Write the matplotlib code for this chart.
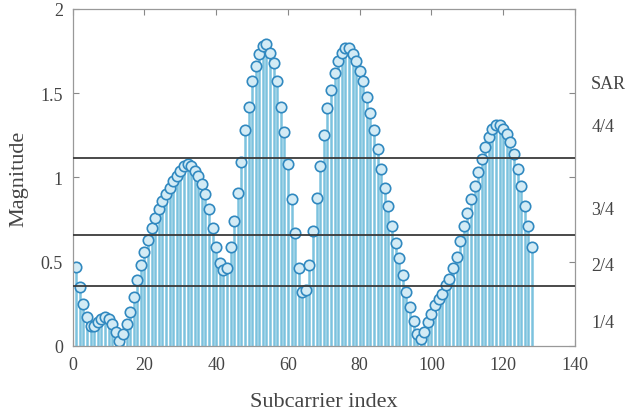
import numpy as np
import matplotlib
matplotlib.use("Agg")
import matplotlib.pyplot as plt

# Subcarrier magnitudes (index 1..128)
magnitude = [
    0.47, 0.35, 0.25, 0.17, 0.12, 0.12, 0.14, 0.16, 0.17, 0.16,
    0.13, 0.08, 0.03, 0.07, 0.13, 0.20, 0.29, 0.39, 0.48, 0.56,
    0.63, 0.70, 0.76, 0.81, 0.86, 0.90, 0.94, 0.98, 1.01, 1.04,
    1.07, 1.08, 1.07, 1.04, 1.01, 0.96, 0.90, 0.81, 0.70, 0.59,
    0.49, 0.45, 0.46, 0.59, 0.74, 0.91, 1.09, 1.28, 1.42, 1.57,
    1.66, 1.73, 1.78, 1.79, 1.74, 1.68, 1.57, 1.42, 1.27, 1.08,
    0.87, 0.67, 0.46, 0.32, 0.33, 0.48, 0.68, 0.88, 1.07, 1.25,
    1.41, 1.52, 1.62, 1.69, 1.74, 1.77, 1.77, 1.73, 1.69, 1.63,
    1.57, 1.48, 1.38, 1.28, 1.17, 1.05, 0.94, 0.83, 0.71, 0.61,
    0.52, 0.42, 0.32, 0.23, 0.15, 0.07, 0.04, 0.08, 0.14, 0.19,
    0.24, 0.28, 0.31, 0.36, 0.40, 0.46, 0.53, 0.62, 0.71, 0.79,
    0.87, 0.95, 1.03, 1.11, 1.18, 1.24, 1.29, 1.31, 1.31, 1.29,
    1.26, 1.21, 1.14, 1.05, 0.95, 0.83, 0.71, 0.59,
]
subcarrier = np.arange(1, len(magnitude) + 1)

# SAR threshold levels and the labels on the right
thresholds = [0.356, 0.659, 1.116]
sar_labels = ["SAR", "4/4", "3/4", "2/4", "1/4"]
sar_label_y = [1.56, 1.30, 0.81, 0.48, 0.14]

xticks = [0, 20, 40, 60, 80, 100, 120, 140]
yticks = [0, 0.5, 1, 1.5, 2]
ytick_labels = ["0", "0.5", "1", "1.5", "2"]

plt.rcParams['font.family'] = ['Liberation Serif', 'DejaVu Serif']
text_color = '#444444'

fig = plt.figure(figsize=(6.35, 4.14), dpi=100)
ax = fig.add_axes([0.1145, 0.162, 0.791, 0.814])

stems = ax.stem(subcarrier, magnitude, basefmt=' ')
stems.stemlines.set_color('#7cc2de')
stems.stemlines.set_linewidth(1.8)
stems.markerline.set_marker('o')
stems.markerline.set_markersize(7.5)
stems.markerline.set_markeredgecolor('#3189c0')
stems.markerline.set_markerfacecolor('#d3ebf5')
stems.markerline.set_markeredgewidth(1.2)

for t in thresholds:
    ax.axhline(t, color='#3a3a3a', linewidth=1.3, zorder=4)

ax.set_xlim(0, 140)
ax.set_ylim(0, 2)
ax.set_xticks(xticks)
ax.set_yticks(yticks)
ax.set_yticklabels(ytick_labels)
ax.tick_params(direction='in', top=True, right=True, length=4,
               labelsize=13, colors='#888888', labelcolor=text_color, pad=7)
for sp in ax.spines.values():
    sp.set_color('#999999')
    sp.set_linewidth(0.9)

ax.set_xlabel('Subcarrier index', fontsize=16, color=text_color, labelpad=14)
ax.set_ylabel('Magnitude', fontsize=16, color=text_color, labelpad=9)

for lab, yy in zip(sar_labels, sar_label_y):
    ax.text(144.5, yy, lab, fontsize=13, color=text_color,
            ha='left', va='center', clip_on=False)

fig.savefig('out.png', dpi=100)
